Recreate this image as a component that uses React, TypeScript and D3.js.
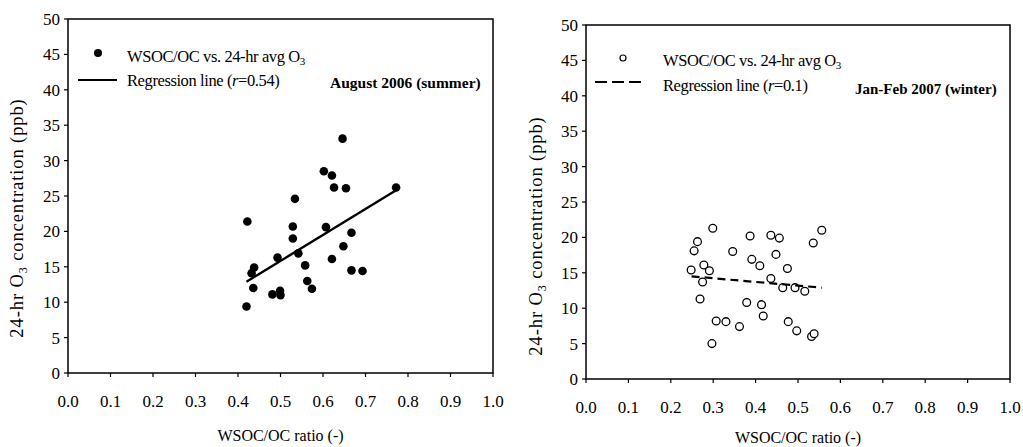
import React from "react";
import * as d3 from "d3";

const xTicks = [0, 0.1, 0.2, 0.3, 0.4, 0.5, 0.6, 0.7, 0.8, 0.9, 1.0];
const yTicks = [0, 5, 10, 15, 20, 25, 30, 35, 40, 45, 50];

const summerRatio = [0.422, 0.42, 0.438, 0.432, 0.436, 0.481, 0.493, 0.499, 0.5, 0.534, 0.529, 0.529, 0.542, 0.558, 0.563, 0.574, 0.602, 0.621, 0.626, 0.607, 0.621, 0.646, 0.654, 0.648, 0.667, 0.667, 0.693, 0.772];
const summerO3 = [21.4, 9.4, 14.9, 14.1, 12.0, 11.1, 16.3, 11.6, 11.0, 24.6, 20.7, 19.0, 16.9, 15.2, 13.0, 11.9, 28.5, 27.9, 26.2, 20.6, 16.1, 33.1, 26.1, 17.9, 19.8, 14.5, 14.4, 26.2];
const summerFitX = [0.42, 0.772];
const summerFitY = [12.9, 25.8];

const winterRatio = [0.248, 0.255, 0.263, 0.278, 0.291, 0.275, 0.269, 0.297, 0.307, 0.299, 0.33, 0.346, 0.362, 0.379, 0.387, 0.391, 0.41, 0.414, 0.418, 0.436, 0.456, 0.448, 0.436, 0.475, 0.464, 0.493, 0.516, 0.477, 0.497, 0.532, 0.538, 0.536, 0.556];
const winterO3 = [15.4, 18.1, 19.4, 16.1, 15.3, 13.7, 11.3, 5.0, 8.2, 21.3, 8.1, 18.0, 7.4, 10.8, 20.2, 16.9, 16.0, 10.5, 8.9, 20.3, 19.9, 17.6, 14.2, 15.6, 12.9, 12.9, 12.4, 8.1, 6.8, 6.0, 6.4, 19.2, 21.0];
const winterFitX = [0.249, 0.556];
const winterFitY = [14.5, 12.9];

const FONT = "'Liberation Serif', 'Times New Roman', serif";

type PanelProps = {
  x0: number; x1: number; yTop: number; yBot: number;
  xs: number[]; ys: number[]; fitX: number[]; fitY: number[];
  filled: boolean; fitLabel: string; season: string; seasonSize: number;
  legend: { mx: number; my: number; tx: number; t1y: number; lx0: number; lx1: number; ly: number; t2y: number; sx: number; sy: number };
  yLabel: { x: number; y: number }; xLabelY: number; tickLabelY: number;
};

function Panel(p: PanelProps) {
  const x = d3.scaleLinear().domain([0, 1]).range([p.x0, p.x1]);
  const y = d3.scaleLinear().domain([0, 50]).range([p.yBot, p.yTop]);
  const line = d3.line<number>().x((_, i) => x(p.fitX[i])).y((d) => y(d));
  const L = p.legend;
  return (
    <g fontFamily={FONT} fill="#000">
      <rect x={p.x0} y={p.yTop} width={p.x1 - p.x0} height={p.yBot - p.yTop} fill="none" stroke="#000" strokeWidth={1.5} />
      {yTicks.map((t) => (
        <g key={"y" + t}>
          <line x1={p.x0 - 4} x2={p.x0} y1={y(t)} y2={y(t)} stroke="#000" strokeWidth={1.2} />
          <text x={p.x0 - 8} y={y(t)} dy="0.35em" textAnchor="end" fontSize={17}>{t}</text>
        </g>
      ))}
      {xTicks.map((t) => (
        <g key={"x" + t}>
          <line x1={x(t)} x2={x(t)} y1={p.yBot} y2={p.yBot + 4} stroke="#000" strokeWidth={1.2} />
          <text x={x(t)} y={p.tickLabelY} textAnchor="middle" fontSize={17}>{t.toFixed(1)}</text>
        </g>
      ))}
      <text x={(p.x0 + p.x1) / 2} y={p.xLabelY} textAnchor="middle" fontSize={16}>WSOC/OC ratio (-)</text>
      <text transform={`translate(${p.yLabel.x},${p.yLabel.y}) rotate(-90)`} textAnchor="middle" fontSize={18.5} letterSpacing={0.9} dy="0.35em">
        24-hr O<tspan fontSize={12} dy={4}>3</tspan><tspan dy={-4}> concentration (ppb)</tspan>
      </text>
      {p.xs.map((v, i) =>
        p.filled ? (
          <circle key={i} cx={x(v)} cy={y(p.ys[i])} r={4.3} fill="#000" />
        ) : (
          <circle key={i} cx={x(v)} cy={y(p.ys[i])} r={3.9} fill="#fff" stroke="#000" strokeWidth={1.3} />
        )
      )}
      <path d={line(p.fitY) || ""} fill="none" stroke="#000" strokeWidth={p.filled ? 2.4 : 2.2} strokeDasharray={p.filled ? undefined : "8,5"} />
      {p.filled ? (
        <circle cx={L.mx} cy={L.my} r={4} fill="#000" />
      ) : (
        <circle cx={L.mx} cy={L.my} r={3} fill="#fff" stroke="#000" strokeWidth={1.2} />
      )}
      <text x={L.tx} y={L.t1y} fontSize={16.5} letterSpacing={-0.4}>
        WSOC/OC vs. 24-hr avg O<tspan fontSize={11} dy={3}>3</tspan>
      </text>
      <line x1={L.lx0} x2={L.lx1} y1={L.ly} y2={L.ly} stroke="#000" strokeWidth={2} strokeDasharray={p.filled ? undefined : "12,5"} />
      <text x={L.tx} y={L.t2y} fontSize={16.5} letterSpacing={-0.4}>
        Regression line (<tspan fontStyle="italic">r</tspan>={p.fitLabel})
      </text>
      <text x={L.sx} y={L.sy} fontSize={p.seasonSize} fontWeight="bold">{p.season}</text>
    </g>
  );
}

export default function App() {
  return (
    <div style={{ position: "absolute", left: 0, top: 0 }}>
      <svg width={1023} height={447} style={{ display: "block", background: "#fff" }}>
        <Panel
          x0={68} x1={493} yTop={19} yBot={373}
          xs={summerRatio} ys={summerO3} fitX={summerFitX} fitY={summerFitY}
          filled={true} fitLabel="0.54" season="August 2006 (summer)" seasonSize={15.5}
          legend={{ mx: 98, my: 53, tx: 127, t1y: 62, lx0: 78, lx1: 117, ly: 80, t2y: 86, sx: 330, sy: 88 }}
          yLabel={{ x: 17, y: 218 }} xLabelY={441} tickLabelY={407}
        />
        <Panel
          x0={586} x1={1010} yTop={25} yBot={379}
          xs={winterRatio} ys={winterO3} fitX={winterFitX} fitY={winterFitY}
          filled={false} fitLabel="0.1" season="Jan-Feb 2007 (winter)" seasonSize={15}
          legend={{ mx: 623, my: 58, tx: 663, t1y: 66, lx0: 595, lx1: 643, ly: 82, t2y: 91, sx: 855, sy: 94 }}
          yLabel={{ x: 536, y: 236 }} xLabelY={443} tickLabelY={413}
        />
      </svg>
    </div>
  );
}
